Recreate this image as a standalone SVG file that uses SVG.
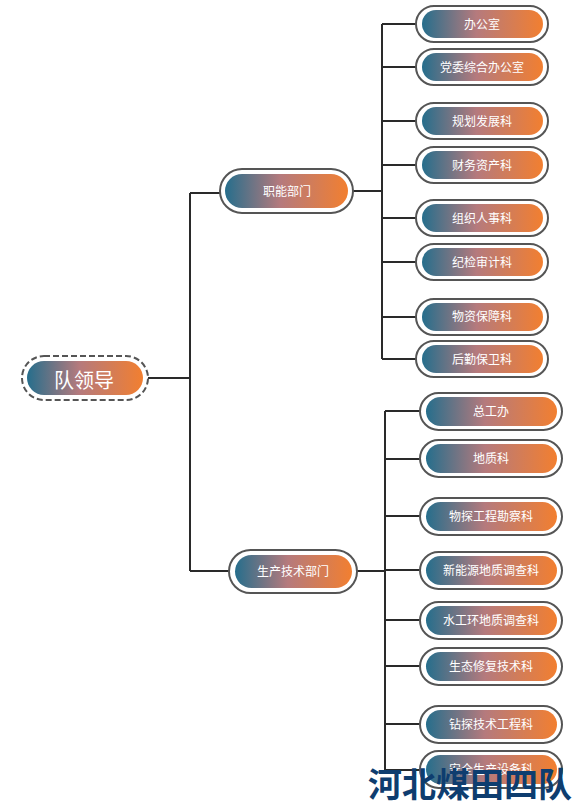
<svg xmlns="http://www.w3.org/2000/svg" width="578" height="803" viewBox="0 0 578 803">
<defs>
<linearGradient id="g" x1="0" y1="0" x2="1" y2="0">
<stop offset="0" stop-color="#266e8c"/>
<stop offset="0.45" stop-color="#b57a7d"/>
<stop offset="1" stop-color="#f27f30"/>
</linearGradient>
<style>
.o{fill:#fff;stroke:#555;stroke-width:2}
.d{fill:#fff;stroke:#555;stroke-width:2;stroke-dasharray:6 3}
.i{fill:url(#g)}
.t{fill:#fff;font-family:"Noto Sans CJK SC",sans-serif;font-size:12px;text-anchor:middle;dominant-baseline:central}
.c{fill:none;stroke:#2a2a2a;stroke-width:2}
</style>
</defs>
<rect width="578" height="803" fill="#fff"/>
<g id="connectors">
<path class="c" d="M148 378H190M190 193V571M190 193H220M190 571H229"/>
<path class="c" d="M353 191H382M382 24V359M382 24H416M382 67H416M382 121H416M382 165H416M382 218H416M382 262H416M382 317H416M382 359H416"/>
<path class="c" d="M357 571H385M385 411V770M385 411H420M385 459H420M385 516H420M385 570H420M385 620H420M385 666H420M385 724H420M385 770H420"/>
</g>
<g id="root">
<rect class="d" x="22" y="356" width="126" height="44" rx="22"/>
<rect class="i" x="27" y="361" width="116" height="34" rx="17"/>
<text class="t" x="84" y="379" style="font-size:20px">队领导</text>
</g>
<g id="n-zhineng">
<rect class="o" x="220" y="169" width="133" height="44" rx="22"/>
<rect class="i" x="225" y="174" width="123" height="34" rx="17"/>
<text class="t" x="287" y="190">职能部门</text>
</g>
<g id="n-shengchan">
<rect class="o" x="229" y="550" width="128" height="43" rx="21.5"/>
<rect class="i" x="235" y="555" width="117" height="33" rx="16.5"/>
<text class="t" x="293" y="570">生产技术部门</text>
</g>
<g id="a1"><rect class="o" x="416" y="6" width="132" height="36" rx="18"/><rect class="i" x="422" y="10" width="121" height="28" rx="14"/><text class="t" x="482" y="23">办公室</text></g>
<g id="a2"><rect class="o" x="416" y="49" width="132" height="36" rx="18"/><rect class="i" x="422" y="53" width="121" height="28" rx="14"/><text class="t" x="482" y="66">党委综合办公室</text></g>
<g id="a3"><rect class="o" x="416" y="103" width="132" height="36" rx="18"/><rect class="i" x="422" y="107" width="121" height="28" rx="14"/><text class="t" x="482" y="120">规划发展科</text></g>
<g id="a4"><rect class="o" x="416" y="147" width="132" height="36" rx="18"/><rect class="i" x="422" y="151" width="121" height="28" rx="14"/><text class="t" x="482" y="164">财务资产科</text></g>
<g id="a5"><rect class="o" x="416" y="200" width="132" height="36" rx="18"/><rect class="i" x="422" y="204" width="121" height="28" rx="14"/><text class="t" x="482" y="217">组织人事科</text></g>
<g id="a6"><rect class="o" x="416" y="244" width="132" height="36" rx="18"/><rect class="i" x="422" y="248" width="121" height="28" rx="14"/><text class="t" x="482" y="261">纪检审计科</text></g>
<g id="a7"><rect class="o" x="416" y="299" width="132" height="36" rx="18"/><rect class="i" x="422" y="303" width="121" height="28" rx="14"/><text class="t" x="482" y="315">物资保障科</text></g>
<g id="a8"><rect class="o" x="416" y="341" width="132" height="36" rx="18"/><rect class="i" x="422" y="345" width="121" height="28" rx="14"/><text class="t" x="482" y="358">后勤保卫科</text></g>
<g id="b1"><rect class="o" x="420" y="393" width="142" height="37" rx="18.5"/><rect class="i" x="426" y="397" width="131" height="29" rx="14.5"/><text class="t" x="491" y="410">总工办</text></g>
<g id="b2"><rect class="o" x="420" y="440" width="142" height="37" rx="18.5"/><rect class="i" x="426" y="444" width="131" height="29" rx="14.5"/><text class="t" x="491" y="457">地质科</text></g>
<g id="b3"><rect class="o" x="420" y="498" width="142" height="37" rx="18.5"/><rect class="i" x="426" y="502" width="131" height="29" rx="14.5"/><text class="t" x="491" y="515">物探工程勘察科</text></g>
<g id="b4"><rect class="o" x="420" y="552" width="142" height="37" rx="18.5"/><rect class="i" x="426" y="556" width="131" height="29" rx="14.5"/><text class="t" x="491" y="569">新能源地质调查科</text></g>
<g id="b5"><rect class="o" x="420" y="602" width="142" height="37" rx="18.5"/><rect class="i" x="426" y="606" width="131" height="29" rx="14.5"/><text class="t" x="491" y="619">水工环地质调查科</text></g>
<g id="b6"><rect class="o" x="420" y="648" width="142" height="37" rx="18.5"/><rect class="i" x="426" y="652" width="131" height="29" rx="14.5"/><text class="t" x="491" y="665">生态修复技术科</text></g>
<g id="b7"><rect class="o" x="420" y="706" width="142" height="37" rx="18.5"/><rect class="i" x="426" y="710" width="131" height="29" rx="14.5"/><text class="t" x="491" y="723">钻探技术工程科</text></g>
<g id="b8"><rect class="o" x="420" y="751" width="142" height="37" rx="18.5"/><rect class="i" x="426" y="755" width="131" height="29" rx="14.5"/><text class="t" x="491" y="768">安全生产设备科</text></g>
<text x="470" y="797" style="fill:#0e3d6f;font-family:'Noto Sans CJK SC',sans-serif;font-size:34px;font-weight:bold;text-anchor:middle">河北煤田四队</text>
</svg>
